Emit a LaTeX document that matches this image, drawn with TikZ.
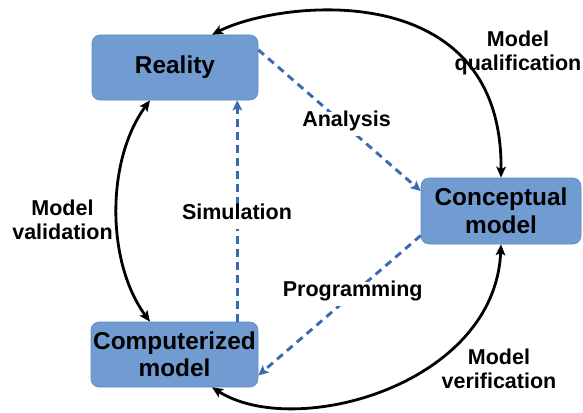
\documentclass[tikz,border=0pt]{standalone}
\usepackage{fontspec}
\setmainfont{Liberation Sans}
\usetikzlibrary{arrows.meta}
\definecolor{boxblue}{RGB}{113,156,210}
\definecolor{boxedge}{RGB}{98,140,198}
\definecolor{flowblue}{RGB}{58,106,176}

\begin{document}
\begin{tikzpicture}[x=1pt,y=-1pt,
  stagebox/.style={fill=boxblue, draw=boxedge, line width=0.6pt, rounded corners=8pt,
    inner sep=0pt, align=center, font=\fontsize{24.4}{27.5}\selectfont\bfseries},
  cycleline/.style={line width=2.8pt, black,
    {Stealth[length=11pt,width=9.5pt,inset=2.5pt]}-{Stealth[length=11pt,width=9.5pt,inset=2.5pt]}},
  flowline/.style={flowblue, line width=2.9pt, dash pattern=on 7.5pt off 5.5pt,
    -{Stealth[length=10pt,width=9.5pt,inset=2pt]}},
  flowlabel/.style={fill=white, anchor=base, inner xsep=2pt, inner ysep=7pt,
    text height=0.75em, text depth=0.25em, font=\fontsize{21.5}{24}\selectfont\bfseries},
  sidelabel/.style={align=center, font=\fontsize{21.5}{24}\selectfont\bfseries}]

\useasboundingbox (0,0) rectangle (583,412);

% the three stages
\node[stagebox, minimum width=166pt, minimum height=65pt] (reality) at (175,67.5) {Reality};
\node[stagebox, minimum width=160pt, minimum height=66pt] (concept) at (501,211) {Conceptual\\model};
\node[stagebox, minimum width=167pt, minimum height=65pt] (computer) at (174.5,354.5) {Computerized\\model};

% dashed transformation arrows
\draw[flowline] (reality.12) -- (concept.166);
\draw[flowline] (concept.197) -- (computer.346);
\draw[flowline] ([xshift=-21pt]computer.north east) -- ([xshift=-21pt]reality.south east);

\node[flowlabel] (analysis) at (346.5,126) {Analysis};
\node[flowlabel] (simulation) at (237,219.3) {Simulation};
\node[flowlabel] (programming) at (352.7,296.5) {Programming};

% outer credibility cycle
\draw[cycleline] ([xshift=37pt]reality.north) .. controls (280,0) and (503,-25) .. (concept.north);
\draw[cycleline] (concept.south) .. controls (495,385) and (295,440) .. ([xshift=37.5pt]computer.south);
\draw[cycleline] ([xshift=-25pt]reality.south) .. controls (106,160) and (106,262) .. ([xshift=-24.5pt]computer.north);

\node[sidelabel] (qual) at (518,53) {Model\\qualification};
\node[sidelabel] (valid) at (62.5,220) {Model\\validation};
\node[sidelabel] (verif) at (499,369) {Model\\verification};
\end{tikzpicture}
\end{document}
